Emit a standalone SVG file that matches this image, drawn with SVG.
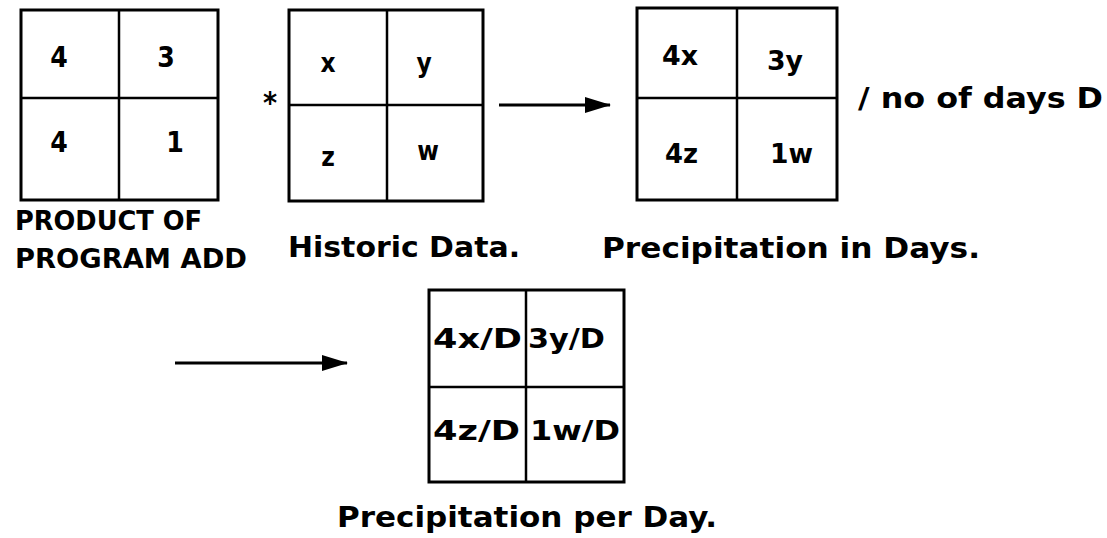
<svg xmlns="http://www.w3.org/2000/svg" width="1107" height="538" viewBox="0 0 1107 538">
<style>
.box{fill:#fff;stroke:#000;stroke-width:3}
.div{stroke:#000;stroke-width:2.5}
text{font-family:"DejaVu Sans Condensed","DejaVu Sans","Liberation Sans",sans-serif;font-stretch:condensed;font-weight:bold;fill:#000}
.c{text-anchor:middle}
.n{font-size:28px}
.v{font-size:26px}
.m{font-size:26px}
.l{font-size:26px}
.b{font-size:26px}
.t{font-size:29px}
.conn{stroke:#000;stroke-width:3;fill:none}
</style>
<defs>
<marker id="ah" markerUnits="userSpaceOnUse" markerWidth="27" markerHeight="18" refX="25" refY="9" orient="auto">
<path d="M0,1 L26,9 L0,17 Z" fill="#000"/>
</marker>
</defs>
<rect width="1107" height="538" fill="#fff"/>
<g id="product">
<rect class="box" x="21" y="10" width="197" height="190"/>
<line class="div" x1="119" y1="10" x2="119" y2="200"/>
<line class="div" x1="21" y1="98" x2="218" y2="98"/>
<text class="n c" x="59" y="67">4</text>
<text class="n c" x="166" y="67">3</text>
<text class="n c" x="59" y="152">4</text>
<text class="n c" x="175" y="152">1</text>
<text class="l" x="15" y="230" textLength="187" lengthAdjust="spacingAndGlyphs">PRODUCT OF</text>
<text class="l" x="15" y="268" textLength="232" lengthAdjust="spacingAndGlyphs">PROGRAM ADD</text>
</g>
<g id="times">
<text class="n c" x="270" y="113" style="font-size:30px">*</text>
</g>
<g id="historic">
<rect class="box" x="289" y="10" width="194" height="191"/>
<line class="div" x1="387" y1="10" x2="387" y2="201"/>
<line class="div" x1="289" y1="105" x2="483" y2="105"/>
<text class="v c" x="328" y="72">x</text>
<text class="v c" x="424" y="72">y</text>
<text class="v c" x="328" y="166">z</text>
<text class="v c" x="428" y="160">w</text>
<text class="t" x="288" y="257" textLength="232" lengthAdjust="spacingAndGlyphs">Historic Data.</text>
</g>
<g id="days">
<rect class="box" x="637" y="8" width="200" height="192"/>
<line class="div" x1="737" y1="8" x2="737" y2="200"/>
<line class="div" x1="637" y1="98" x2="837" y2="98"/>
<text class="m" x="662" y="65" textLength="36" lengthAdjust="spacingAndGlyphs">4x</text>
<text class="m" x="767" y="70" textLength="36" lengthAdjust="spacingAndGlyphs">3y</text>
<text class="m" x="665" y="163" textLength="33" lengthAdjust="spacingAndGlyphs">4z</text>
<text class="m" x="770" y="163" textLength="43" lengthAdjust="spacingAndGlyphs">1w</text>
<text class="t" x="858" y="108" textLength="245" lengthAdjust="spacingAndGlyphs">/ no of days D</text>
<text class="t" x="602" y="258" textLength="378" lengthAdjust="spacingAndGlyphs">Precipitation in Days.</text>
</g>
<g id="perday">
<rect class="box" x="429" y="290" width="195" height="192"/>
<line class="div" x1="526" y1="290" x2="526" y2="482"/>
<line class="div" x1="429" y1="387" x2="624" y2="387"/>
<text class="b" x="433" y="348" textLength="89" lengthAdjust="spacingAndGlyphs">4x/D</text>
<text class="b" x="528" y="348" textLength="77" lengthAdjust="spacingAndGlyphs">3y/D</text>
<text class="b" x="433" y="440" textLength="87" lengthAdjust="spacingAndGlyphs">4z/D</text>
<text class="b" x="530" y="440" textLength="90" lengthAdjust="spacingAndGlyphs">1w/D</text>
<text class="t" x="337" y="527" textLength="380" lengthAdjust="spacingAndGlyphs">Precipitation per Day.</text>
</g>
<g id="connectors">
<line class="conn" x1="499" y1="105" x2="610" y2="105" marker-end="url(#ah)"/>
<line class="conn" x1="175" y1="363" x2="347" y2="363" marker-end="url(#ah)"/>
</g>
</svg>
